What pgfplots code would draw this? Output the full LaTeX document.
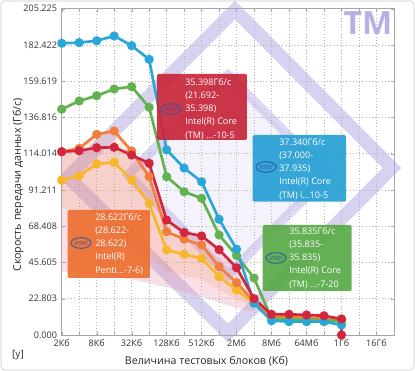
\documentclass[border=0pt]{standalone}
\usepackage{pgfplots}
\pgfplotsset{compat=1.18}
\usepackage{fontspec}
\setmainfont{Open Sans}
\definecolor{cblue}{RGB}{42,167,217}
\definecolor{cgreen}{RGB}{98,178,80}
\definecolor{cred}{RGB}{210,38,60}
\definecolor{corange}{RGB}{242,125,60}
\definecolor{cyellow}{RGB}{247,183,43}
\definecolor{bred}{RGB}{200,40,60}
\definecolor{bblue}{RGB}{40,160,212}
\definecolor{bgreen}{RGB}{90,170,72}
\definecolor{borange}{RGB}{238,112,50}
\definecolor{lav}{RGB}{168,155,224}
\definecolor{cpink}{RGB}{230,140,160}
\definecolor{intelblue}{RGB}{40,85,160}
\begin{document}
\begin{tikzpicture}
\useasboundingbox (-46.275pt,-27pt) rectangle (264.975pt,251.25pt);
\begin{scope}[x=0.75pt,y=-0.75pt,xshift=-46.275pt,yshift=251.25pt]
\draw[gray!45, rounded corners=3pt] (1,1) rectangle (414,370);
\draw[lav, line width=10pt, opacity=0.45, line join=miter] (68,177)--(235,10)--(392,168)--(228,333)--cycle;
\fill[lav, opacity=0.12] (128,175)--(228,75)--(328,175)--(228,275)--cycle;
\draw[lav, line width=7pt, opacity=0.38, line join=miter] (128,175)--(228,75)--(328,175)--(228,275)--cycle;
\node[text=lav, font=\fontsize{24}{24}\selectfont\bfseries, opacity=0.8] at (368,23) {TM};
\end{scope}
\begin{axis}[
  scale only axis, width=249.2pt, height=244.7pt,
  xmin=0, xmax=19, ymin=0, ymax=205.225,
  xtick={0,2,...,18},
  xticklabels={2Кб,8Кб,32Кб,128Кб,512Кб,2Мб,8Мб,64Мб,1Гб,16Гб},
  minor xtick={1,3,...,19},
  ytick={0,22.8025,45.605,68.4075,91.21,114.0125,136.815,159.6175,182.42,205.225},
  yticklabels={0.000,22.803,45.605,68.408,91.211,114.014,136.816,159.619,182.422,205.225},
  grid=both,
  major grid style={gray!60, dotted, line width=0.5pt},
  minor grid style={gray!60, dotted, line width=0.5pt},
  axis line style={gray!70},
  major tick length=2.5pt, minor tick length=2.5pt,
  tick style={gray!70},
  tick label style={font=\fontsize{6.8}{8}\selectfont, text=black!80},
  clip=false,
]
\addplot[draw=none, fill=cpink, fill opacity=0.28] coordinates {
 (0,115.3) (1,115.9) (2,117.8) (3,118.1) (4,113.2) (5,108) (6,72.3) (7,64.5) (8,62.3) (9,53.7) (10,42.3) (11,22.8)
 (11,15) (10,17) (8,24) (6,30) (4,35) (2,38) (0,40)} -- cycle;
\addplot[draw=none, fill=corange, fill opacity=0.15] coordinates {
 (0,115.3) (1,117.4) (2,126.2) (3,128.3) (4,115.7) (5,99.6) (6,65) (7,60.3) (8,56.6) (9,43) (10,32.9) (11,21)
 (11,18) (10,22) (8,35) (6,40) (4,60) (2,75) (0,80)} -- cycle;
\addplot[cyellow, line width=2pt, mark=*, mark size=2.4pt] coordinates {
 (0,97.3) (1,100.2) (2,107.6) (3,108.6) (4,97.5) (5,82.8) (6,53.5) (7,50.8) (8,48.2) (9,36.7) (10,28.3) (11,20)
 (12,11.5) (13,11) (14,10.5) (15,10) (16,9)};
\addplot[corange, line width=2pt, mark=*, mark size=2.4pt] coordinates {
 (0,115.3) (1,117.4) (2,126.2) (3,128.3) (4,115.7) (5,99.6) (6,65) (7,60.3) (8,56.6) (9,43) (10,32.9) (11,21)
 (12,12) (13,11.5) (14,11) (15,10.5) (16,9.5)};
\addplot[cgreen, line width=2pt, mark=*, mark size=2.4pt] coordinates {
 (0,142) (1,147.2) (2,150.5) (3,154.7) (4,156.2) (5,143.2) (6,99.6) (7,90.1) (8,86) (9,62.9) (10,50) (11,35.8)
 (12,10.5) (13,9.8) (14,9.6) (15,9.4) (16,8.5)};
\addplot[cblue, line width=2pt, mark=*, mark size=2.4pt] coordinates {
 (0,183.5) (1,183.9) (2,185.1) (3,188.1) (4,182) (5,173.4) (6,116.5) (7,105) (8,96.4) (9,72.8) (10,54) (11,20)
 (12,9) (13,8.4) (14,8.4) (15,8.4) (16,6.3)};
\addplot[cred, line width=2pt, mark=*, mark size=2.4pt] coordinates {
 (0,115.3) (1,115.9) (2,117.8) (3,118.1) (4,113.2) (5,108) (6,72.3) (7,64.5) (8,62.3) (9,53.7) (10,42.3) (11,22.8)
 (12,13) (13,13) (14,12.6) (15,12.1) (16,10.1) (16,0)};
\end{axis}
\begin{scope}[x=0.75pt,y=-0.75pt,xshift=-46.275pt,yshift=251.25pt]
\tikzset{tip/.style={anchor=north west, inner sep=0pt, align=left, text=white, font=\fontsize{6.8}{9.9}\selectfont},
 logo/.style={draw=intelblue, line width=0.8pt, opacity=0.8},
 logot/.style={text=intelblue, opacity=0.85, font=\fontsize{5.2}{6}\selectfont\itshape}}
% red
\fill[bred, rounded corners=1pt, opacity=0.93] (157,74) rectangle (247,140);
\node[tip] at (185,78) {35.398Гб/с\\(21.692-\\35.398)\\Intel(R) Core\\(TM) ...-10-5};
\draw[logo] (171,109) ellipse (7.5pt and 4pt);
\node[logot] at (171,109) {intel};
% blue
\fill[bblue, rounded corners=1pt, opacity=0.93] (252.7,135) rectangle (346,201.7);
\node[tip] at (279,138) {37.340Гб/с\\(37.000-\\37.935)\\Intel(R) Core\\(TM) i...10-5};
\draw[logo] (266,167) ellipse (7.5pt and 4pt);
\node[logot] at (266,167) {intel};
% green
\fill[bgreen, rounded corners=1pt, opacity=0.93] (262.7,225) rectangle (351.7,291);
\node[tip] at (289,227) {35.835Гб/с\\(35.835-\\35.835)\\Intel(R) Core\\(TM) ...-7-20};
\draw[logo] (276,258) ellipse (7.5pt and 4pt);
\node[logot] at (276,258) {intel};
% orange
\fill[borange, rounded corners=1pt, opacity=0.93] (67.7,210) rectangle (150,278);
\node[tip] at (95,213) {28.622Гб/с\\(28.622-\\28.622)\\Intel(R)\\Penti...-7-6)};
\draw[logo] (81,243) ellipse (7.5pt and 4pt);
\node[logot] at (81,243) {intel};
% labels
\node[rotate=90, font=\fontsize{8}{9}\selectfont, text=black!85] at (18,185) {Скорость передачи данных (Гб/с)};
\node[font=\fontsize{8}{9}\selectfont, text=black!85] at (206.5,361) {Величина тестовых блоков (Кб)};
\node[font=\fontsize{7.5}{9}\selectfont, text=black!85] at (18,355) {[y]};
\end{scope}
\end{tikzpicture}
\end{document}
